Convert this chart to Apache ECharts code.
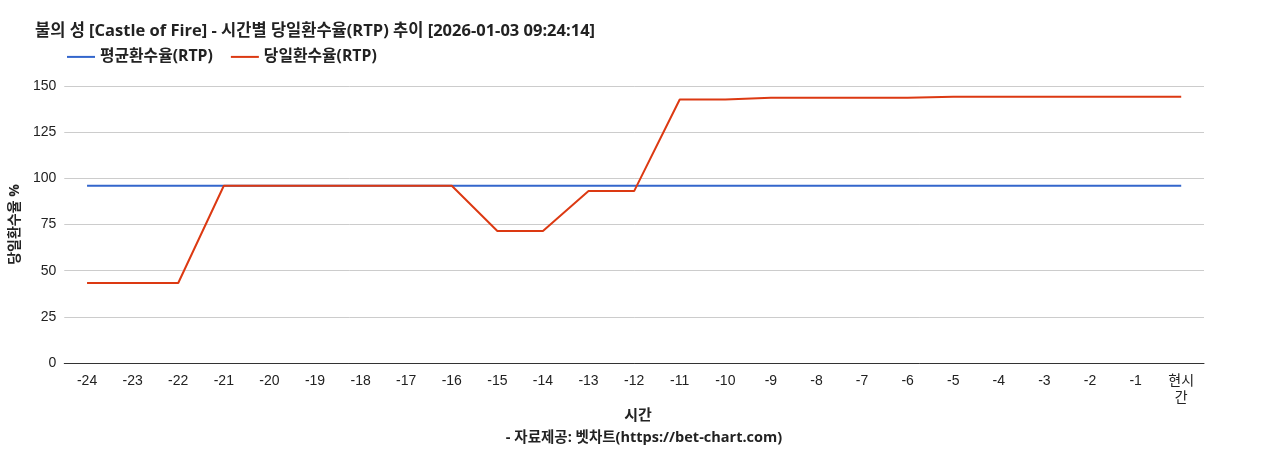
<!DOCTYPE html>
<html>
<head>
<meta charset="utf-8">
<script src="https://cdn.jsdelivr.net/npm/echarts@6/dist/echarts.min.js"></script>
<style>html,body{margin:0;padding:0;background:#fff}#chart{width:1268px;height:450px}</style>
</head>
<body>
<div id="chart"></div>
<script>
var categories = ['-24','-23','-22','-21','-20','-19','-18','-17','-16','-15','-14','-13','-12','-11','-10','-9','-8','-7','-6','-5','-4','-3','-2','-1','현시\n간'];
var avgRtp = [96,96,96,96,96,96,96,96,96,96,96,96,96,96,96,96,96,96,96,96,96,96,96,96,96];
var dayRtp = [43.3,43.3,43.3,96,96,96,96,96,96,71.5,71.5,93.1,93.1,142.7,142.7,143.6,143.6,143.6,143.6,144.2,144.2,144.2,144.2,144.2,144.2];

var font = 'Arial, "Liberation Sans", "Noto Sans CJK KR", sans-serif';
var boldFont = '"Open Sans", "Noto Sans CJK KR", sans-serif';
var chart = echarts.init(document.getElementById('chart'));
chart.setOption({
  animation: false,
  textStyle: {fontFamily: font},
  title: [{
    text: '불의 성 [Castle of Fire] - 시간별 당일환수율(RTP) 추이 [2026-01-03 09:24:14]',
    left: 30, top: 18,
    textStyle: {fontSize: 16.5, fontWeight: 'bold', color: '#222', fontFamily: boldFont}
  }, {
    text: '시간', left: 633, top: 403, textAlign: 'center',
    textStyle: {fontSize: 15, fontWeight: 'bold', color: '#222', fontFamily: boldFont}
  }, {
    text: '- 자료제공: 벳차트(https://bet-chart.com)', left: 639, top: 426, textAlign: 'center',
    textStyle: {fontSize: 14.5, fontWeight: 'bold', color: '#222', fontFamily: boldFont}
  }],
  legend: {
    left: 62, top: 44, itemWidth: 28, itemHeight: 2, itemGap: 18,
    icon: 'rect',
    textStyle: {fontSize: 15.8, fontWeight: 'bold', color: '#222', fontFamily: boldFont},
    data: ['평균환수율(RTP)', '당일환수율(RTP)']
  },
  grid: {left: 62, right: 64, top: 86, bottom: 87},
  xAxis: {
    type: 'category', data: categories, boundaryGap: true,
    axisLine: {lineStyle: {color: '#333'}},
    axisTick: {show: false},
    axisLabel: {color: '#222', fontSize: 14, margin: 10, interval: 0, lineHeight: 17, fontFamily: font}
  },
  yAxis: {
    type: 'value', min: 0, max: 150, interval: 25,
    name: '당일환수율 %', nameLocation: 'middle', nameGap: 34,
    nameTextStyle: {fontSize: 14, fontWeight: 'bold', color: '#222', fontFamily: boldFont},
    axisLabel: {color: '#222', fontSize: 14, fontFamily: font},
    splitLine: {lineStyle: {color: '#ccc'}}
  },
  series: [{
    name: '평균환수율(RTP)', type: 'line', data: avgRtp, symbol: 'none',
    itemStyle: {color: '#3366cc'}, lineStyle: {width: 2, color: '#3366cc'}
  }, {
    name: '당일환수율(RTP)', type: 'line', data: dayRtp, symbol: 'none',
    itemStyle: {color: '#dc3912'}, lineStyle: {width: 2, color: '#dc3912'}
  }]
});
</script>
</body>
</html>
